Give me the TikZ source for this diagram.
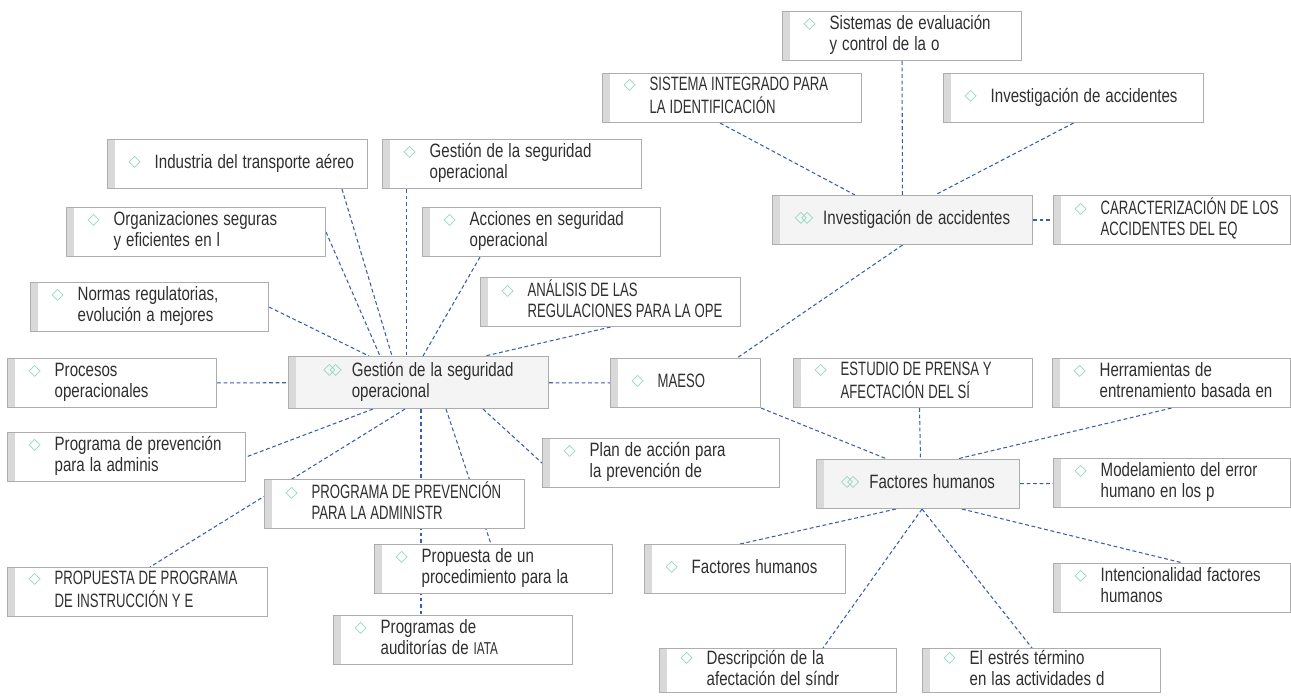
\documentclass[tikz,border=0pt]{standalone}
\usepackage{fontspec}
\setmainfont{Liberation Sans}[FakeStretch=0.78]
\newfontfamily\capsfont{Liberation Sans}[FakeStretch=0.68]
\newfontfamily\dmdfont{DejaVu Sans}
\usetikzlibrary{positioning,calc,backgrounds}

\definecolor{linkblue}{HTML}{3A5DAE}
\definecolor{framegray}{HTML}{ADADAD}
\definecolor{bargray}{HTML}{D9D9D9}
\definecolor{hubfill}{HTML}{F4F4F4}
\definecolor{mint}{HTML}{8FD6BE}
\definecolor{inkgray}{HTML}{2F2F2F}

\newcommand{\dmd}{\raisebox{0.8pt}{\dmdfont\fontsize{9}{9}\selectfont\color{mint}\char"25C7}}
\newcommand{\ddmd}{\raisebox{0.8pt}{\dmdfont\fontsize{9}{9}\selectfont\color{mint}\char"25C7\kern-0.38em\char"25C7}}
\newcommand{\lfspace}{\spaceskip=0.26em\relax}
\newcommand{\lf}[1]{\mbox{\lfspace\hspace*{0.42cm}\dmd\hspace{0.28cm}\begin{tabular}[t]{@{}l@{}}#1\end{tabular}}}
\newcommand{\hb}[1]{\mbox{\lfspace\ddmd\hspace{0.2cm}\begin{tabular}[t]{@{}l@{}}#1\end{tabular}}}
\newcommand{\capset}{\capsfont\fontsize{11}{11.8}\selectfont\def\lfspace{\spaceskip=0.2em\relax}}

\tikzset{
  box/.style={rectangle, draw=framegray, line width=0.6pt, anchor=north west,
    inner xsep=0pt, inner ysep=0pt, minimum height=0.98cm, text=inkgray,
    font=\fontsize{11}{11.8}\selectfont,
    path picture={\fill [bargray] (path picture bounding box.north west)
      rectangle ([xshift=0.14cm]path picture bounding box.south west);}},
  leaf/.style={box, fill=white, text width=#1, align=left},
  caps/.style={font=\capset},
  hub/.style={box, fill=hubfill, minimum width=#1, align=center},
  link/.style={draw=linkblue, line width=0.6pt, dash pattern=on 2.2pt off 1.5pt}
}

\begin{document}
\begin{tikzpicture}[x=0.02cm, y=-0.02cm]
        \useasboundingbox (0,0) rectangle (1291,696);
        % centres
        \node [hub=5.2cm, minimum height=1.04cm] (GSO) at (288,356) {\hb{Gestión de la seguridad\\operacional}};
        \node [hub=5.2cm] (INV) at (772,195) {\hb{Investigación de accidentes}};
        \node [hub=4.06cm] (FH) at (816,459) {\hb{Factores humanos}};
        % investigacion de accidentes
        \node [leaf=4.78cm] (SEC) at (782,11) {\lf{Sistemas de evaluación\\y control de la o}};
        \node [leaf=5.18cm, caps] (SII) at (602,73) {\lf{SISTEMA INTEGRADO PARA\\LA IDENTIFICACIÓN}};
        \node [leaf=5.2cm] (IAC) at (943,73) {\lf{Investigación de accidentes}};
        \node [leaf=4.74cm, caps] (CAR) at (1053,195) {\lf{CARACTERIZACIÓN DE LOS\\ACCIDENTES DEL EQ}};
        % gestion de la seguridad operacional
        \node [leaf=5.2cm] (IND) at (107,139) {\lf{Industria del transporte aéreo}};
        \node [leaf=5.18cm] (GST) at (382,139) {\lf{Gestión de la seguridad\\operacional}};
        \node [leaf=5.18cm] (ORG) at (66,207) {\lf{Organizaciones seguras\\y eficientes en l}};
        \node [leaf=4.76cm] (ACC) at (422,207) {\lf{Acciones en seguridad\\operacional}};
        \node [leaf=4.76cm] (NOR) at (30,282) {\lf{Normas regulatorias,\\evolución a mejores}};
        \node [leaf=5.2cm, caps] (ANA) at (480,277) {\lf{ANÁLISIS DE LAS\\REGULACIONES PARA LA OPE}};
        \node [leaf=4.18cm] (PRO) at (7,358) {\lf{Procesos\\operacionales}};
        \node [leaf=3.0cm, caps] (MAE) at (610,358) {\lf{MAESO}};
        \node [leaf=4.76cm] (PPA) at (7,432) {\lf{Programa de prevención\\para la adminis}};
        \node [leaf=5.2cm, caps] (PPU) at (264,479) {\lf{PROGRAMA DE PREVENCIÓN\\PARA LA ADMINISTR}};
        \node [leaf=4.74cm] (PLA) at (542,438) {\lf{Plan de acción para\\la prevención de}};
        \node [leaf=5.2cm, caps] (PRI) at (7,567) {\lf{PROPUESTA DE PROGRAMA\\DE INSTRUCCIÓN Y E}};
        \node [leaf=4.76cm] (PPR) at (374,544) {\lf{Propuesta de un\\procedimiento para la}};
        \node [leaf=4.78cm] (AUD) at (333,615) {\lf{Programas de\\auditorías de {\capsfont\fontsize{9.8}{11.8}\selectfont IATA}}};
        % factores humanos
        \node [leaf=4.78cm, caps] (EST) at (793,358) {\lf{ESTUDIO DE PRENSA Y\\AFECTACIÓN DEL SÍ}};
        \node [leaf=4.76cm] (HER) at (1052,358) {\lf{Herramientas de\\entrenamiento basada en}};
        \node [leaf=4.74cm] (MOD) at (1053,458) {\lf{Modelamiento del error\\humano en los p}};
        \node [leaf=4.02cm] (FHB) at (644,544) {\lf{Factores humanos}};
        \node [leaf=4.74cm] (INT) at (1053,563) {\lf{Intencionalidad factores\\humanos}};
        \node [leaf=4.74cm, minimum height=0.88cm] (DES) at (659,648) {\lf{Descripción de la\\afectación del síndr}};
        \node [leaf=4.76cm, minimum height=0.88cm] (ESR) at (922,648) {\lf{El estrés término\\en las actividades d}};
        \begin{pgfonlayer}{background}
        \draw [link] (SEC) -- (INV);
        \draw [link] ($(SII.south west)+(118,0)$) -- ($(INV.north west)+(83,0)$);
        \draw [link] (IAC.south) -- ($(INV.north west)+(163,0)$);
        \draw [link] (INV) -- (CAR);
        \draw [link] (INV.south) -- ($(MAE.north west)+(127,0)$);
        \draw [link] ($(IND.south east)+(-26,0)$) -- ($(GSO.north west)+(104,0)$);
        \draw [link] ($(GST.south west)+(24.5,0)$) -- ($(GSO.north west)+(118.5,0)$);
        \draw [link] (ORG.east) -- ($(GSO.north west)+(92,0)$);
        \draw [link] (NOR.east) -- ($(GSO.north west)+(81,0)$);
        \draw [link] ($(ACC.south west)+(58,0)$) -- ($(GSO.north west)+(135,0)$);
        \draw [link] (ANA.south) -- ($(GSO.north west)+(197,0)$);
        \draw [link] (PRO) -- (GSO);
        \draw [link] (GSO) -- (MAE);
        \draw [link] ($(GSO.south west)+(85,0)$) -- (PPA.east);
        \draw [link] ($(GSO.south west)+(117,0)$) -- ($(PRI.north west)+(143,0)$);
        \draw [link] ($(GSO.south west)+(133,0)$) -- ($(AUD.north west)+(88,0)$);
        \draw [link] ($(GSO.south west)+(158,0)$) -- ($(PPR.north west)+(117,0)$);
        \draw [link] ($(GSO.south west)+(195,0)$) -- (PLA.west);
        \draw [link] (MAE.south east) -- ($(FH.north west)+(71,0)$);
        \draw [link] ($(EST.south west)+(126.5,0)$) -- ($(FH.north west)+(104.5,0)$);
        \draw [link] (HER.south) -- ($(FH.north west)+(141,0)$);
        \draw [link] (FH) -- (MOD);
        \draw [link] ($(FH.south west)+(80,0)$) -- ($(FHB.north west)+(96,0)$);
        \draw [link] ($(FH.south west)+(146,0)$) -- ($(INT.north west)+(130,0)$);
        \draw [link] ($(FH.south west)+(106,0)$) -- ($(DES.north west)+(164,0)$);
        \draw [link] ($(FH.south west)+(106,0)$) -- ($(ESR.north west)+(110,0)$);
        \end{pgfonlayer}
\end{tikzpicture}
\end{document}
